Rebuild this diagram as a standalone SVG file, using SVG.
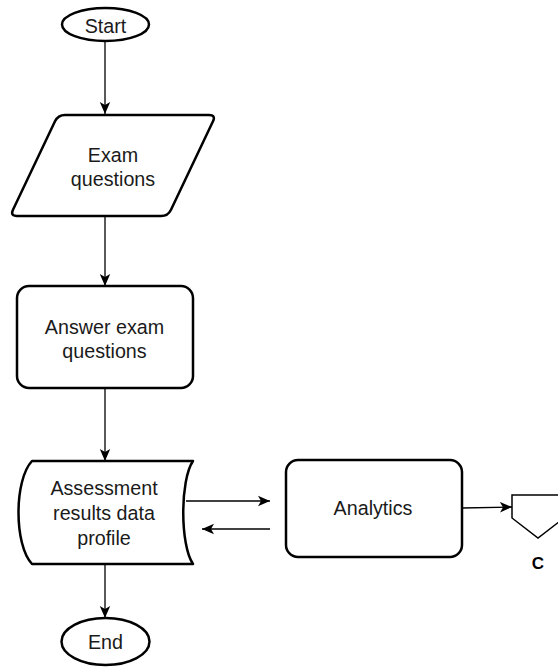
<svg xmlns="http://www.w3.org/2000/svg" width="558" height="668" viewBox="0 0 558 668">
  <style>
    .shape { fill: #ffffff; stroke: #000000; stroke-width: 2.5; stroke-linejoin: round; }
    .thin { fill: #ffffff; stroke: #000000; stroke-width: 1.5; stroke-linejoin: miter; }
    .edge { fill: none; stroke: #000000; stroke-width: 1.3; }
    .label { font-family: "Liberation Sans", Arial, sans-serif; font-size: 19.7px; fill: #1a1a1a; text-anchor: middle; }
    .bold { font-family: "Liberation Sans", Arial, sans-serif; font-size: 17px; font-weight: bold; fill: #000000; text-anchor: middle; }
  </style>
  <defs>
    <marker id="arrow" markerUnits="userSpaceOnUse" markerWidth="14" markerHeight="12" refX="12" refY="6" orient="auto">
      <path d="M0,0.8 L12,6 L0,11.2 L3,6 Z" fill="#000000"/>
    </marker>
  </defs>

  <!-- connectors -->
  <g id="connectors">
    <line class="edge" x1="105" y1="41" x2="105" y2="114" marker-end="url(#arrow)"/>
    <line class="edge" x1="105" y1="216" x2="105" y2="286" marker-end="url(#arrow)"/>
    <line class="edge" x1="105" y1="388" x2="105" y2="461" marker-end="url(#arrow)"/>
    <line class="edge" x1="105" y1="564" x2="105" y2="618" marker-end="url(#arrow)"/>
    <line class="edge" x1="186" y1="501" x2="270" y2="501" marker-end="url(#arrow)"/>
    <line class="edge" x1="270" y1="529" x2="202" y2="529" marker-end="url(#arrow)"/>
    <line class="edge" x1="462" y1="508" x2="512" y2="507" marker-end="url(#arrow)"/>
  </g>

  <!-- terminator: start -->
  <g id="start">
    <ellipse class="shape" cx="105.5" cy="24.5" rx="43.5" ry="16.5"/>
    <text class="label" x="105.5" y="33">Start</text>
  </g>

  <!-- data input -->
  <g id="exam-questions">
    <path class="shape" d="M65,115 L209,115 Q216,115 213,121.3 L171,209.7 Q168,216 161,216 L17,216 Q10,216 13,209.7 L55,121.3 Q58,115 65,115 Z"/>
    <text class="label" x="113" y="162">Exam</text>
    <text class="label" x="113" y="186">questions</text>
  </g>

  <!-- process -->
  <g id="answer-exam-questions">
    <rect class="shape" x="17" y="286" width="176" height="102" rx="12" ry="12"/>
    <text class="label" x="104.5" y="334">Answer exam</text>
    <text class="label" x="104.5" y="358">questions</text>
  </g>

  <!-- stored data -->
  <g id="assessment-results">
    <path class="shape" d="M32,461 L193,461 C180,480 180,545 193,564 L32,564 C14,545 14,480 32,461 Z"/>
    <text class="label" x="104" y="495">Assessment</text>
    <text class="label" x="104" y="520">results data</text>
    <text class="label" x="104" y="545">profile</text>
  </g>

  <!-- process -->
  <g id="analytics">
    <rect class="shape" x="286" y="460" width="176" height="97" rx="12" ry="12"/>
    <text class="label" x="373" y="515">Analytics</text>
  </g>

  <!-- off-page connector -->
  <g id="connector-c">
    <path class="thin" d="M512,495 L564,495 L564,518 L538,538 L512,518 Z"/>
    <text class="bold" x="538" y="569">C</text>
  </g>

  <!-- terminator: end -->
  <g id="end">
    <ellipse class="shape" cx="105.5" cy="641.5" rx="44" ry="23.5"/>
    <text class="label" x="105.5" y="649">End</text>
  </g>
</svg>
